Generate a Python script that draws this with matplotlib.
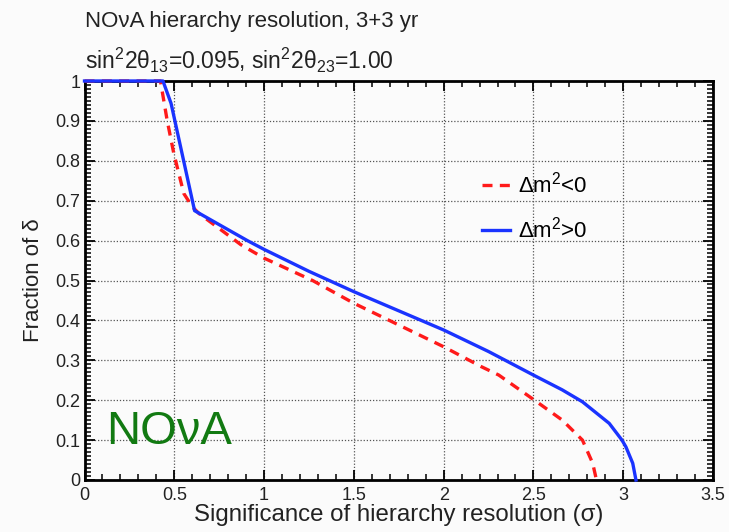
import numpy as np
import matplotlib
matplotlib.use('Agg')
import matplotlib.pyplot as plt
from matplotlib.ticker import MultipleLocator

plt.rcParams['font.family'] = ['Liberation Sans', 'DejaVu Sans']
plt.rcParams['mathtext.fontset'] = 'custom'
plt.rcParams['mathtext.rm'] = 'Liberation Sans'
plt.rcParams['mathtext.it'] = 'Liberation Sans:italic'
plt.rcParams['mathtext.bf'] = 'Liberation Sans:bold'

# Данные
sig_nh = [0, 0.437, 0.482, 0.613, 0.75, 0.907, 1.0, 1.25, 1.5, 1.75, 2.0, 2.25, 2.5, 2.66, 2.773, 2.922, 2.993, 3.015, 3.053, 3.071]
frac_nh = [1, 1, 0.944, 0.675, 0.64, 0.6, 0.578, 0.523, 0.472, 0.424, 0.376, 0.322, 0.263, 0.226, 0.196, 0.142, 0.1, 0.083, 0.042, 0.0]

sig_ih = [0, 0.423, 0.46, 0.497, 0.553, 0.6, 0.637, 0.76, 0.87, 1.0, 1.27, 1.5, 2.0, 2.21, 2.307, 2.506, 2.661, 2.773, 2.83, 2.851]
frac_ih = [1, 1, 0.902, 0.819, 0.718, 0.685, 0.668, 0.627, 0.59, 0.556, 0.5, 0.443, 0.334, 0.284, 0.263, 0.2, 0.15, 0.1, 0.042, 0.0]

lbl_ih = r'$\Delta$m$^2$<0'
lbl_nh = r'$\Delta$m$^2$>0'

W, H = 729, 532
fig = plt.figure(figsize=(W / 100, H / 100), dpi=100, facecolor='#fbfbfb')
ax = fig.add_axes([84.5 / W, 1 - 480 / H, (713 - 84.5) / W, (480 - 81) / H])
ax.set_facecolor('#fbfbfb')

ax.plot(sig_ih, frac_ih, color='#ff1a1a', lw=2.4, ls=(0, (3, 2.2)), label=lbl_ih, clip_on=False, zorder=3)
ax.plot(sig_nh, frac_nh, color='#1a33ff', lw=2.4, label=lbl_nh, clip_on=False, zorder=4)

ax.set_xlim(0, 3.5)
ax.set_ylim(0, 1)
ax.xaxis.set_minor_locator(MultipleLocator(0.1))
ax.yaxis.set_minor_locator(MultipleLocator(0.01))
ax.set_xticks(np.arange(0, 3.51, 0.5))
ax.set_xticklabels(['0', '0.5', '1', '1.5', '2', '2.5', '3', '3.5'])
ax.set_yticks(np.arange(0, 1.01, 0.1))
ax.set_yticklabels(['0', '0.1', '0.2', '0.3', '0.4', '0.5', '0.6', '0.7', '0.8', '0.9', '1'])

ax.tick_params(which='both', direction='in', top=True, right=True, colors='black', labelcolor='#222222')
ax.tick_params(which='major', length=7, width=1.3, labelsize=13)
ax.tick_params(which='minor', length=4, width=1.1)
ax.tick_params(axis='y', pad=3)
ax.tick_params(axis='x', pad=5)
for s in ax.spines.values():
    s.set_linewidth(2)

ax.grid(True, which='major', color='#555555', ls=(0, (1, 1.5)), lw=0.9)

ax.set_xlabel('Significance of hierarchy resolution (σ)', fontsize=17.3, color='#222222', labelpad=0)
ax.set_ylabel('Fraction of δ', fontsize=16, color='#222222', labelpad=8)

ax.legend(loc='upper left', bbox_to_anchor=(462 / W, 1 - 152 / H), bbox_transform=fig.transFigure,
          frameon=False, fontsize=16, handlelength=1.25, handletextpad=0.35, labelspacing=0.85)

ax.text(0.035, 0.09, 'NOνA', transform=ax.transAxes, fontsize=34, color='#127a12')

fig.text(85 / W, 1 - 21 / H, 'NOνA hierarchy resolution, 3+3 yr', fontsize=16, color='#222222', va='center')
fig.text(85 / W, 1 - 60 / H, r'sin$^2$2θ$_{13}$=0.095, sin$^2$2θ$_{23}$=1.00', fontsize=16.5, color='#222222', va='center')

fig.savefig('out.png', dpi=100, facecolor=fig.get_facecolor())
